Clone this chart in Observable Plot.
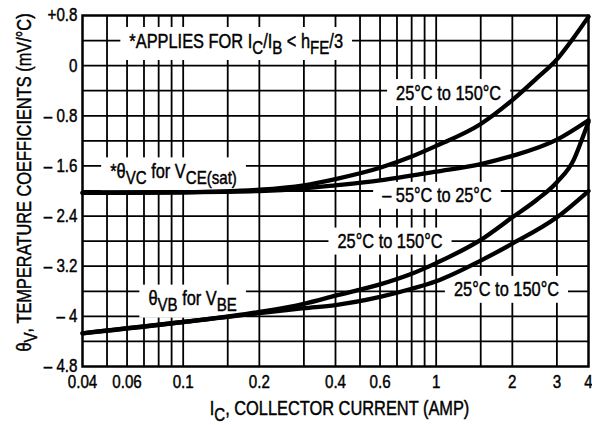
<!DOCTYPE html>
<html><head><meta charset="utf-8">
<script src="https://cdn.jsdelivr.net/npm/d3@7"></script>
<script src="https://cdn.jsdelivr.net/npm/@observablehq/plot@0.6"></script>
<style>body{margin:0;background:#fff;}</style>
</head><body>
<div id="chart"></div>
<script>
// ---- data ----
const xVCHot  = [0.04, 0.1, 0.2, 0.3, 0.4, 0.6, 0.8, 1.0, 1.5, 2, 2.5, 3, 3.5, 4];
const yVCHot  = [-2.03, -2.02, -1.98, -1.91, -1.81, -1.63, -1.45, -1.28, -0.93, -0.55, -0.2, 0.1, 0.45, 0.78];
const xVCCold = [0.04, 0.1, 0.2, 0.3, 0.4, 0.6, 1.0, 1.5, 2, 3, 4];
const yVCCold = [-2.03, -2.02, -2.0, -1.96, -1.91, -1.83, -1.69, -1.57, -1.44, -1.18, -0.87];
const xVBHot  = [0.04, 0.1, 0.2, 0.3, 0.4, 0.6, 0.8, 1, 1.5, 2, 2.5, 3, 3.5, 3.75, 4];
const yVBHot  = [-4.27, -4.09, -3.93, -3.80, -3.67, -3.49, -3.32, -3.15, -2.78, -2.42, -2.14, -1.86, -1.5, -1.2, -0.9];
const xVBCold = [0.04, 0.1, 0.2, 0.3, 0.4, 0.6, 0.8, 1, 1.5, 2, 3, 4];
const yVBCold = [-4.27, -4.09, -3.95, -3.87, -3.82, -3.69, -3.56, -3.44, -3.11, -2.84, -2.42, -2.0];

const xTicks = [0.04, 0.06, 0.1, 0.2, 0.4, 0.6, 1, 2, 3, 4];
const yTicks = [0.8, 0, -0.8, -1.6, -2.4, -3.2, -4, -4.8];
const xGrid = [0.05, 0.06, 0.07, 0.08, 0.09, 0.1, 0.15, 0.2, 0.3, 0.4, 0.5, 0.6, 0.7, 0.8, 0.9, 1, 1.5, 2, 3];
const yGrid = [0.4, 0, -0.4, -0.8, -1.2, -1.6, -2.0, -2.4, -2.8, -3.2, -3.6, -4.0, -4.4];

const labelText = ["*APPLIES FOR I_{C}/I_{B} < h_{FE}/3", "25°C to 150°C", "*θ_{VC} for V_{CE(sat)}",
                   "– 55°C to 25°C", "25°C to 150°C", "25°C to 150°C", "θ_{VB} for V_{BE}"];
const labelX = [0.162, 1.12, 0.0916, 1.007, 0.657, 1.896, 0.109];
const labelY = [0.39, -0.44, -1.69, -2.08, -2.81, -3.58, -3.72];

const xTitle = "I_{C}, COLLECTOR CURRENT (AMP)";
const yTitle = "θ_{V}, TEMPERATURE COEFFICIENTS (mV/°C)";

// ---- tables ----
const curves = [
  ...xVCHot.map((x, i) => ({s: "vcHot", x, y: yVCHot[i]})),
  ...xVCCold.map((x, i) => ({s: "vcCold", x, y: yVCCold[i]})),
  ...xVBHot.map((x, i) => ({s: "vbHot", x, y: yVBHot[i]})),
  ...xVBCold.map((x, i) => ({s: "vbCold", x, y: yVBCold[i]}))
];
const labels = labelText.map((t, i) => ({t, x: labelX[i], y: labelY[i]}));

const FONT = "'Liberation Sans', Arial, sans-serif";
const NARROW = 0.82; // horizontal squeeze to imitate a narrow Helvetica
const fmtY = d => d > 0 ? "+" + d : d === 0 ? "0" : "– " + Math.abs(d);
const ink = {fill: "#000", stroke: "#000", strokeWidth: 0.45, textAnchor: "middle", lineAnchor: "middle"};

const chart = Plot.plot({
  width: 592, height: 425,
  marginLeft: 82, marginRight: 4, marginTop: 15, marginBottom: 59,
  style: {fontFamily: FONT, fontSize: "18.5px", color: "#000", background: "#fff", overflow: "visible"},
  x: {type: "log", domain: [0.04, 4], axis: null},
  y: {domain: [-4.8, 0.8], axis: null},
  marks: [
    Plot.ruleX(xGrid, {stroke: "#000", strokeWidth: 1.8}),
    Plot.ruleY(yGrid, {stroke: "#000", strokeWidth: 1.8}),
    Plot.frame({stroke: "#000", strokeWidth: 2.5}),
    Plot.text(labels, {...ink, x: "x", y: "y", text: "t", fontSize: 20}),
    Plot.line(curves, {x: "x", y: "y", z: "s", stroke: "#000", strokeWidth: 4.3, curve: "monotone-x"}),
    Plot.text(xTicks, {...ink, x: d => d, frameAnchor: "bottom", dy: 16, text: d => String(d), fontSize: 18.5}),
    Plot.text(yTicks, {...ink, y: d => d, frameAnchor: "left", textAnchor: "end", dx: -5, text: fmtY, fontSize: 18.5}),
    Plot.text([yTitle], {...ink, text: d => d, frameAnchor: "left", rotate: -90, dx: -58, dy: -8.5, fontSize: 20}),
    Plot.text([xTitle], {...ink, text: d => d, frameAnchor: "bottom", dx: 4, dy: 42, fontSize: 20})
  ]
});
document.getElementById("chart").append(chart);

const NS = "http://www.w3.org/2000/svg";
const allText = Array.from(chart.querySelectorAll("text"));
const labelSet = new Set(labelText);
const labelEls = allText.filter(el => labelSet.has(el.textContent));

// ---- subscripts: "_{...}" markup -> lowered tspans ----
allText.forEach(el => {
  const s = el.textContent;
  if (!s.includes("_{")) return;
  const fs = parseFloat(getComputedStyle(el).fontSize) || 20;
  const shift = 0.3 * fs;
  el.textContent = "";
  let pending = 0;
  for (const p of s.split(/(_\{[^}]*\})/)) {
    if (!p) continue;
    const t = document.createElementNS(NS, "tspan");
    if (p.startsWith("_{")) {
      t.textContent = p.slice(2, -1);
      t.setAttribute("dy", shift);
      t.setAttribute("font-size", (fs * 0.92).toFixed(1));
      pending = -shift;
    } else {
      t.textContent = p;
      if (pending) t.setAttribute("dy", pending);
      pending = 0;
    }
    el.appendChild(t);
  }
});

// ---- narrow the glyphs around each text's anchor ----
allText.forEach(el => {
  const tr = el.getAttribute("transform") || "";
  el.setAttribute("transform", tr + ` scale(${NARROW},1)`);
});

// ---- white boxes behind the curve labels (interrupt the grid) ----
labelEls.forEach(t => {
  const bb = t.getBBox();
  const r = document.createElementNS(NS, "rect");
  r.setAttribute("x", bb.x - 11);
  r.setAttribute("y", bb.y - 2);
  r.setAttribute("width", bb.width + 22);
  r.setAttribute("height", bb.height + 4);
  r.setAttribute("fill", "#fff");
  r.setAttribute("stroke", "none");
  const tr = t.getAttribute("transform");
  if (tr) r.setAttribute("transform", tr);
  t.parentNode.insertBefore(r, t);
});
</script>
</body></html>
